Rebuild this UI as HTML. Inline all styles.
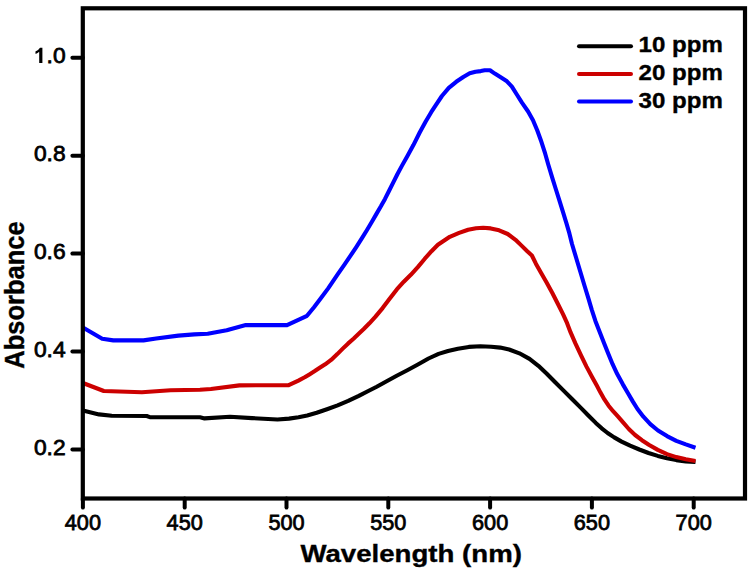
<!DOCTYPE html>
<html><head><meta charset="utf-8"><style>
html,body{margin:0;padding:0;background:#fff;width:756px;height:572px;overflow:hidden}
svg{display:block}
polyline{fill:none;stroke-width:4.1;stroke-linejoin:round;stroke-linecap:butt}
.tk{stroke:#000;stroke-width:4;stroke-linecap:round}
text{font-family:"Liberation Sans",sans-serif;fill:#000}
.tl{font-size:21.5px;stroke:#000;stroke-width:0.75px}
.ax{font-size:24.5px;font-weight:bold;stroke:#000;stroke-width:0.35px}
.lg{font-size:21.5px;font-weight:bold;stroke:#000;stroke-width:0.35px}
</style></head><body>
<svg width="756" height="572" viewBox="0 0 756 572">
<polyline points="82.9,410.5 99.0,414.4 111.7,415.7 146.7,416.0 149.8,417.1 200.0,417.3 204.5,418.4 230.0,416.7 252.0,418.1 277.5,419.5 289.0,418.6 298.5,417.3 307.2,415.5 316.7,412.8 327.0,409.2 337.6,405.3 348.2,400.9 358.8,395.9 368.3,391.0 376.7,386.7 386.2,381.5 396.7,375.7 407.3,370.2 417.9,364.5 428.5,358.5 438.6,353.9 448.0,351.0 457.9,348.7 468.8,346.9 480.4,346.3 491.2,346.7 500.2,347.6 509.1,349.5 519.4,353.3 529.5,358.9 538.4,365.8 546.8,373.8 555.2,382.2 563.6,390.6 572.0,399.0 580.4,407.4 588.6,415.7 595.8,422.9 601.7,428.3 607.6,433.0 614.2,437.4 621.6,441.6 630.1,445.7 639.3,449.5 648.5,453.0 657.8,455.9 667.0,458.2 676.3,460.1 685.8,461.4 695.5,462.0" stroke="#000" />
<polyline points="82.9,383.0 103.8,391.0 141.9,392.2 170.5,390.3 200.0,389.8 210.9,389.0 239.4,385.4 288.7,385.1 298.4,380.6 304.7,377.3 309.4,374.4 314.4,371.3 319.7,367.8 325.2,364.3 331.1,359.9 337.3,354.1 343.0,348.4 348.2,343.4 353.5,338.7 358.7,333.8 364.0,328.8 369.4,323.3 375.5,316.6 382.6,308.1 389.8,298.5 396.8,289.4 403.8,281.7 410.8,274.8 417.8,267.1 424.8,258.7 431.5,251.2 437.9,244.8 449.8,236.8 459.1,232.9 468.1,229.7 476.0,228.2 483.2,227.8 490.8,228.4 499.1,230.3 507.7,234.0 515.5,239.8 521.8,245.9 527.0,251.0 531.9,255.5 535.9,263.7 541.0,272.8 546.6,282.5 552.2,292.8 557.8,303.7 563.0,314.2 567.1,323.2 570.6,332.4 575.4,343.4 580.9,355.1 586.5,366.6 592.2,377.3 596.8,385.6 600.5,392.6 604.4,399.4 608.6,405.7 613.1,411.2 618.1,416.7 623.3,422.7 628.8,429.0 635.1,435.0 641.9,440.2 649.2,445.0 657.8,449.9 667.0,454.1 676.3,457.1 685.8,459.3 695.5,461.1" stroke="#cc0000" />
<polyline points="82.9,327.5 102.2,338.8 113.3,340.4 143.5,340.4 156.2,338.5 178.4,335.6 194.3,334.4 207.7,333.7 226.7,330.2 245.8,325.1 287.0,325.1 307.0,315.8 314.0,307.2 321.0,298.1 328.0,288.6 337.8,274.2 344.1,265.1 350.2,256.2 356.1,247.3 361.8,238.4 367.0,230.0 371.9,221.7 376.6,213.6 380.9,206.3 385.0,198.9 389.1,190.8 393.3,182.4 397.5,174.0 402.0,165.6 407.3,156.2 413.4,145.1 419.7,132.5 425.7,121.5 431.2,112.2 436.3,104.4 441.9,96.0 448.8,87.9 456.2,81.8 463.3,77.0 469.7,73.3 475.5,71.7 480.8,71.1 484.7,70.3 490.0,70.3 494.8,73.6 500.7,77.3 506.9,81.3 511.9,86.6 516.5,94.0 522.1,102.8 528.1,111.5 533.0,120.2 537.2,130.3 541.4,141.8 545.2,153.7 548.4,165.0 552.6,178.8 556.1,190.0 559.6,201.2 563.1,212.3 566.4,223.1 569.4,233.4 572.0,244.0 576.2,258.0 580.4,272.0 584.6,286.0 588.4,298.4 591.8,309.8 595.4,320.9 599.7,332.0 604.2,343.5 608.6,354.6 612.6,364.2 617.1,373.8 622.7,384.1 628.3,393.7 632.9,401.6 637.5,409.0 643.4,416.7 650.3,424.1 658.0,430.5 667.0,436.1 676.3,440.8 685.8,444.4 695.5,447.7" stroke="#0000ff" />
<rect x="82.8" y="8.3" width="662.2" height="490.2" fill="none" stroke="#000" stroke-width="4.2"/>
<line x1="72.4" y1="57.8" x2="82.8" y2="57.8" class="tk"/>
<line x1="72.4" y1="155.7" x2="82.8" y2="155.7" class="tk"/>
<line x1="72.4" y1="253.6" x2="82.8" y2="253.6" class="tk"/>
<line x1="72.4" y1="351.5" x2="82.8" y2="351.5" class="tk"/>
<line x1="72.4" y1="449.4" x2="82.8" y2="449.4" class="tk"/>
<line x1="82.9" y1="498.5" x2="82.9" y2="507.6" class="tk"/>
<line x1="184.7" y1="498.5" x2="184.7" y2="507.6" class="tk"/>
<line x1="286.5" y1="498.5" x2="286.5" y2="507.6" class="tk"/>
<line x1="388.3" y1="498.5" x2="388.3" y2="507.6" class="tk"/>
<line x1="490.1" y1="498.5" x2="490.1" y2="507.6" class="tk"/>
<line x1="591.9" y1="498.5" x2="591.9" y2="507.6" class="tk"/>
<line x1="693.7" y1="498.5" x2="693.7" y2="507.6" class="tk"/>
<text class="tl" text-anchor="end" transform="translate(65.6,63.0) scale(1.06,1)">.0</text>
<path d="M42.4,47.8 L40,47.8 Q38.6,50.2 35.4,51.6 L35.6,54 Q37.8,53.2 39.2,51.8 L39.2,62.9 L42.4,62.9 Z" fill="#000"/>
<text class="tl" text-anchor="end" transform="translate(65.6,160.9) scale(1.06,1)">0.8</text>
<text class="tl" text-anchor="end" transform="translate(65.6,258.8) scale(1.06,1)">0.6</text>
<text class="tl" text-anchor="end" transform="translate(65.6,356.7) scale(1.06,1)">0.4</text>
<text class="tl" text-anchor="end" transform="translate(65.6,454.6) scale(1.06,1)">0.2</text>
<text class="tl" text-anchor="middle" transform="translate(82.9,529.6) scale(1.01,1)">400</text>
<text class="tl" text-anchor="middle" transform="translate(184.7,529.6) scale(1.01,1)">450</text>
<text class="tl" text-anchor="middle" transform="translate(286.5,529.6) scale(1.01,1)">500</text>
<text class="tl" text-anchor="middle" transform="translate(388.3,529.6) scale(1.01,1)">550</text>
<text class="tl" text-anchor="middle" transform="translate(490.1,529.6) scale(1.01,1)">600</text>
<text class="tl" text-anchor="middle" transform="translate(591.9,529.6) scale(1.01,1)">650</text>
<text class="tl" text-anchor="middle" transform="translate(693.7,529.6) scale(1.01,1)">700</text>
<text class="ax" text-anchor="middle" transform="translate(411.2,561.7) scale(1.128,1)">Wavelength (nm)</text>
<text class="ax" text-anchor="middle" style="font-size:25.5px" transform="translate(24,295) scale(1.12,1) rotate(-90)">Absorbance</text>
<line x1="579" y1="46.3" x2="631" y2="46.3" stroke="#000" stroke-width="4" stroke-linecap="round"/>
<text class="lg" transform="translate(638.6,52.3) scale(1.12,1)">10 ppm</text>
<line x1="579" y1="73.9" x2="631" y2="73.9" stroke="#cc0000" stroke-width="4" stroke-linecap="round"/>
<text class="lg" transform="translate(638.6,79.9) scale(1.12,1)">20 ppm</text>
<line x1="579" y1="101.5" x2="631" y2="101.5" stroke="#0000ff" stroke-width="4" stroke-linecap="round"/>
<text class="lg" transform="translate(638.6,107.5) scale(1.12,1)">30 ppm</text>
</svg>
</body></html>
